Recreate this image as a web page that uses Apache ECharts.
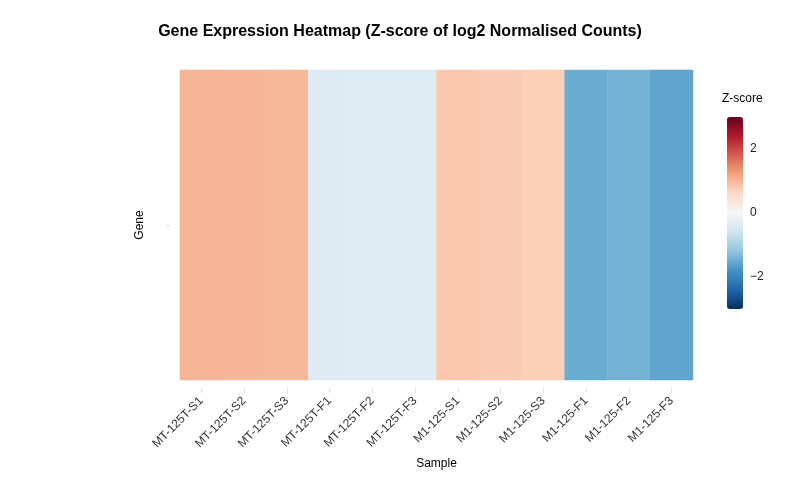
<!DOCTYPE html>
<html>
<head>
<meta charset="utf-8">
<script src="https://cdn.jsdelivr.net/npm/echarts@6/dist/echarts.min.js"></script>
<style>
  html, body { margin: 0; padding: 0; background: #fff; }
  #chart { width: 800px; height: 500px; }
</style>
</head>
<body>
<div id="chart"></div>
<script>
// samples (x) and the single gene row (y)
const samples = [
  'MT-125T-S1', 'MT-125T-S2', 'MT-125T-S3',
  'MT-125T-F1', 'MT-125T-F2', 'MT-125T-F3',
  'M1-125-S1', 'M1-125-S2', 'M1-125-S3',
  'M1-125-F1', 'M1-125-F2', 'M1-125-F3'
];
const genes = [''];
// z-scores
const zscores = [1.02, 1.01, 1.00, -0.40, -0.38, -0.36, 0.80, 0.77, 0.73, -1.50, -1.43, -1.58];
const legendTicks = [-2, 0, 2];

// RdBu palette, low -> high
const rdbu = ['#053061', '#2166ac', '#4393c3', '#92c5de', '#d1e5f0', '#f7f7f7',
  '#fddbc7', '#f4a582', '#d6604d', '#b2182b', '#67001f'];

const font = 'Helvetica, "Liberation Sans", Arial, sans-serif';

function fmtTick(v) {
  if (legendTicks.indexOf(v) < 0) return '';
  return v < 0 ? '\u2212' + Math.abs(v) : String(v);
}

const chart = echarts.init(document.getElementById('chart'));
chart.setOption({
  backgroundColor: '#fff',
  textStyle: { fontFamily: font },
  title: {
    text: 'Gene Expression Heatmap (Z-score of log2 Normalised Counts)',
    left: 'center',
    top: 19,
    textStyle: { fontSize: 16, fontWeight: 'bold', color: '#000', fontFamily: font }
  },
  grid: [
    { left: 180, right: 107, top: 70, bottom: 120 },
    { left: 727, width: 16, top: 117, height: 192 }
  ],
  xAxis: [
    {
      type: 'category',
      data: samples,
      offset: 8,
      name: 'Sample',
      nameLocation: 'middle',
      nameGap: 70,
      nameTextStyle: { fontSize: 12, color: '#000' },
      axisLine: { show: false },
      axisTick: { show: true, alignWithLabel: true, length: 5, lineStyle: { color: '#e0e0e0' } },
      axisLabel: { rotate: 45, fontSize: 12, color: '#333', margin: 11, interval: 0 },
      splitLine: { show: false }
    },
    { gridIndex: 1, type: 'value', min: 0, max: 1, show: false }
  ],
  yAxis: [
    {
      type: 'category',
      data: genes,
      offset: 10,
      name: 'Gene',
      nameLocation: 'middle',
      nameGap: 24,
      nameTextStyle: { fontSize: 12, color: '#000' },
      axisLine: { show: false },
      axisTick: { show: true, alignWithLabel: true, length: 4, lineStyle: { color: '#e0e0e0' } },
      axisLabel: { show: false },
      splitLine: { show: false }
    },
    {
      gridIndex: 1,
      type: 'value',
      position: 'right',
      min: -3,
      max: 3,
      interval: 1,
      axisLine: { show: false },
      axisTick: { show: false },
      splitLine: { show: false },
      axisLabel: { fontSize: 12, color: '#222', margin: 7, formatter: fmtTick }
    }
  ],
  visualMap: {
    type: 'continuous',
    min: -3,
    max: 3,
    seriesIndex: 0,
    calculable: false,
    orient: 'vertical',
    left: 727,
    top: 117,
    padding: 0,
    itemWidth: 16,
    itemHeight: 192,
    text: null,
    showLabel: false,
    inRange: { color: rdbu }
  },
  graphic: [{
    type: 'text',
    left: 722,
    top: 93,
    style: { text: 'Z-score', fontSize: 12, fill: '#000', fontFamily: font }
  }],
  series: [{
    type: 'heatmap',
    xAxisIndex: 0,
    yAxisIndex: 0,
    data: zscores.map((z, i) => [i, 0, z]),
    itemStyle: { borderWidth: 0 },
    emphasis: { disabled: true }
  }]
});
</script>
</body>
</html>
